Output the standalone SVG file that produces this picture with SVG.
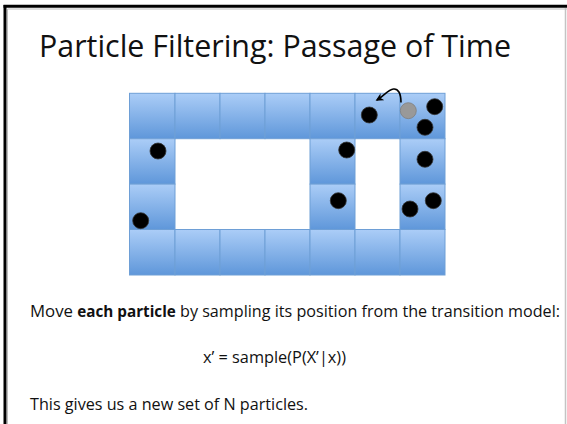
<svg xmlns="http://www.w3.org/2000/svg" width="567" height="424" viewBox="0 0 567 424">
<defs>
<linearGradient id="cellg" x1="0" y1="0" x2="0" y2="1">
<stop offset="0" stop-color="#abcdf7"/>
<stop offset="1" stop-color="#5f97da"/>
</linearGradient>
<marker id="ah" viewBox="0 0 10 10" refX="8" refY="5" markerWidth="5" markerHeight="5" orient="auto-start-reverse">
<path d="M0,0 L10,5 L0,10 L3,5 Z" fill="#000"/>
</marker>
</defs>
<style>
.cell{fill:url(#cellg);stroke:#6e9fd6;stroke-width:1}
.p{fill:#000;stroke:#333;stroke-width:0.8}
.pg{fill:#999;stroke:#7f7f7f;stroke-width:0.8}
.t{font-family:"Open Sans","Noto Sans",sans-serif;fill:#111}
.b{font-family:"Open Sans","Noto Sans",sans-serif;fill:#111;font-size:16.7px}
</style>
<rect width="567" height="424" fill="#fff"/>
<g id="frame">
<line x1="7.5" y1="9" x2="567" y2="9" stroke="#bdbdbd" stroke-width="1"/>
<line x1="7.5" y1="9" x2="7.5" y2="424" stroke="#bdbdbd" stroke-width="1"/>
<line x1="565.5" y1="8" x2="565.5" y2="424" stroke="#c4c4c4" stroke-width="1.5"/>
<line x1="3.5" y1="6.3" x2="567" y2="6.3" stroke="#000" stroke-width="3"/>
<line x1="5" y1="5" x2="5" y2="424" stroke="#000" stroke-width="3"/>
</g>
<g id="title"><text class="t" x="39" y="57" font-size="31.5" textLength="472" lengthAdjust="spacingAndGlyphs">Particle Filtering: Passage of Time</text></g>
<g id="grid">
<rect class="cell" x="129.5" y="93.3" width="45.5" height="45.4"/>
<rect class="cell" x="175" y="93.3" width="45" height="45.4"/>
<rect class="cell" x="220" y="93.3" width="45" height="45.4"/>
<rect class="cell" x="265" y="93.3" width="45" height="45.4"/>
<rect class="cell" x="310" y="93.3" width="45" height="45.4"/>
<rect class="cell" x="355" y="93.3" width="45" height="45.4"/>
<rect class="cell" x="400" y="93.3" width="45" height="45.4"/>
<rect class="cell" x="129.5" y="138.7" width="45.5" height="45.4"/>
<rect class="cell" x="310" y="138.7" width="45" height="45.4"/>
<rect class="cell" x="400" y="138.7" width="45" height="45.4"/>
<rect class="cell" x="129.5" y="184.1" width="45.5" height="45.4"/>
<rect class="cell" x="310" y="184.1" width="45" height="45.4"/>
<rect class="cell" x="400" y="184.1" width="45" height="45.4"/>
<rect class="cell" x="129.5" y="229.5" width="45.5" height="45.5"/>
<rect class="cell" x="175" y="229.5" width="45" height="45.5"/>
<rect class="cell" x="220" y="229.5" width="45" height="45.5"/>
<rect class="cell" x="265" y="229.5" width="45" height="45.5"/>
<rect class="cell" x="310" y="229.5" width="45" height="45.5"/>
<rect class="cell" x="355" y="229.5" width="45" height="45.5"/>
<rect class="cell" x="400" y="229.5" width="45" height="45.5"/>
</g>
<g id="particles">
<circle class="p" cx="369.3" cy="115" r="8"/>
<circle class="pg" cx="408.3" cy="110.7" r="8"/>
<circle class="p" cx="434.7" cy="106.7" r="8"/>
<circle class="p" cx="425" cy="127.3" r="8"/>
<circle class="p" cx="158" cy="151" r="8"/>
<circle class="p" cx="346.7" cy="150" r="8"/>
<circle class="p" cx="425" cy="159.3" r="8"/>
<circle class="p" cx="338.3" cy="200.7" r="8"/>
<circle class="p" cx="433.3" cy="200.7" r="8"/>
<circle class="p" cx="410" cy="209" r="8"/>
<circle class="p" cx="140.7" cy="220.7" r="8"/>
</g>
<g id="connectors">
<path d="M401,102.5 C401,93 398,88.5 393.5,89 C388,89.5 384,96 377,100" fill="none" stroke="#000" stroke-width="1.6" marker-end="url(#ah)"/>
</g>
<g id="body">
<text class="b" x="30" y="316.5" textLength="43" lengthAdjust="spacingAndGlyphs">Move</text>
<text class="b" x="77.3" y="316.5" font-weight="bold" textLength="98.5" lengthAdjust="spacingAndGlyphs">each particle</text>
<text class="b" x="180" y="316.5" textLength="380" lengthAdjust="spacingAndGlyphs">by sampling its position from the transition model:</text>
<text class="b" x="203" y="363" textLength="143" lengthAdjust="spacingAndGlyphs">x’ = sample(P(X’|x))</text>
<text class="b" x="30" y="410" textLength="278" lengthAdjust="spacingAndGlyphs">This gives us a new set of N particles.</text>
</g>
</svg>
